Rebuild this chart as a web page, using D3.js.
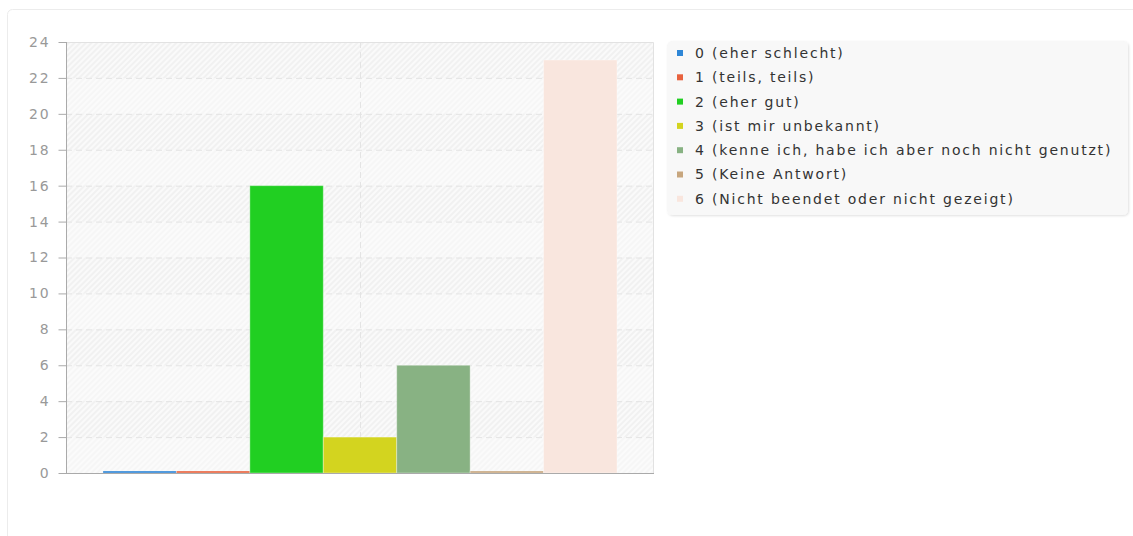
<!DOCTYPE html>
<html>
<head>
<meta charset="utf-8">
<script src="https://cdn.jsdelivr.net/npm/d3@7/dist/d3.min.js"></script>
<style>
  html, body { margin: 0; padding: 0; background: #fff; }
  svg { display: block; font-family: "DejaVu Sans", sans-serif; }
</style>
</head>
<body>
<svg id="chart" width="1133" height="536"></svg>
<script>
// Answer options and their counts
const categories = [""];
const seriesNames = [
  "0 (eher schlecht)",
  "1 (teils, teils)",
  "2 (eher gut)",
  "3 (ist mir unbekannt)",
  "4 (kenne ich, habe ich aber noch nicht genutzt)",
  "5 (Keine Antwort)",
  "6 (Nicht beendet oder nicht gezeigt)"
];
const seriesValues = [0, 0, 16, 2, 6, 0, 23];
const seriesColors = ["#2e86d6", "#e8623e", "#21cf22", "#d3d41f", "#88b283", "#c7a67e", "#f9e6de"];
const yTicks = [0, 2, 4, 6, 8, 10, 12, 14, 16, 18, 20, 22, 24];

const svg = d3.select("#chart");
const defs = svg.append("defs");

// card frame
svg.append("rect")
  .attr("x", 7.5).attr("y", 9.5).attr("width", 1140).attr("height", 560)
  .attr("rx", 5).attr("fill", "#fff").attr("stroke", "#ececec");

const plot = { left: 66, right: 654, top: 42, bottom: 473 };

const y = d3.scaleLinear().domain([0, 24]).range([plot.bottom, plot.top]);
const x0 = d3.scaleBand().domain(categories).range([plot.left, plot.right])
  .paddingInner(0).paddingOuter(0.072);
const x1 = d3.scaleBand().domain(seriesNames).range([0, x0.bandwidth()]).padding(0);

// diagonal hatch for the plot background
const hatch = defs.append("pattern").attr("id", "hatch")
  .attr("patternUnits", "userSpaceOnUse").attr("width", 4).attr("height", 4)
  .attr("patternTransform", "rotate(45)");
hatch.append("rect").attr("width", 4).attr("height", 4).attr("fill", "#f1f1f1");
hatch.append("line").attr("x1", 1).attr("y1", 0).attr("x2", 1).attr("y2", 4)
  .attr("stroke", "#fbfbfb").attr("stroke-width", 1.8);

svg.append("rect")
  .attr("x", plot.left).attr("y", plot.top)
  .attr("width", plot.right - plot.left).attr("height", plot.bottom - plot.top)
  .attr("fill", "url(#hatch)");

// alternate bands washed out
const bands = d3.range(0, 24, 2).filter((d, i) => i % 2 === 0);
svg.append("g").selectAll("rect").data(bands).join("rect")
  .attr("x", plot.left).attr("width", plot.right - plot.left)
  .attr("y", d => y(d + 2)).attr("height", d => y(d) - y(d + 2))
  .attr("fill", "#fbfbfb").attr("opacity", 0.5);

// horizontal dashed grid
svg.append("g").selectAll("line").data(yTicks.filter(d => d > 0 && d < 24)).join("line")
  .attr("x1", plot.left).attr("x2", plot.right)
  .attr("y1", d => y(d) + 0.5).attr("y2", d => y(d) + 0.5)
  .attr("stroke", "#e4e4e4").attr("stroke-dasharray", "6,4");

// vertical dashed grid at category centre
svg.append("g").selectAll("line").data(categories).join("line")
  .attr("x1", d => Math.round(x0(d) + x0.bandwidth() / 2) + 0.5)
  .attr("x2", d => Math.round(x0(d) + x0.bandwidth() / 2) + 0.5)
  .attr("y1", plot.top).attr("y2", plot.bottom)
  .attr("stroke", "#e4e4e4").attr("stroke-dasharray", "6,4");

// plot frame (top and right)
svg.append("path")
  .attr("d", `M${plot.left},${plot.top + 0.5}H${plot.right - 0.5}V${plot.bottom}`)
  .attr("fill", "none").attr("stroke", "#e2e2e2");

// bars
const rows = seriesNames.map((n, i) => ({ name: n, value: seriesValues[i], color: seriesColors[i] }));
svg.append("g").selectAll("g").data(categories).join("g")
  .attr("transform", d => `translate(${x0(d)},0)`)
  .selectAll("rect").data(rows).join("rect")
  .attr("x", d => x1(d.name))
  .attr("width", x1.bandwidth())
  .attr("y", d => Math.min(y(d.value), plot.bottom - 2))
  .attr("height", d => Math.max(plot.bottom - y(d.value), 2))
  .attr("fill", d => d.color)
  .attr("stroke", "rgba(255,255,255,0.35)").attr("stroke-width", 1);

// y axis
const yAxis = d3.axisLeft(y).tickValues(yTicks).tickSize(8).tickPadding(8);
const gy = svg.append("g").attr("transform", `translate(${plot.left + 0.5},0)`).call(yAxis);
gy.select(".domain").attr("stroke", "#aaa").attr("d", `M0,${plot.top}V${plot.bottom}`);
gy.selectAll(".tick line").attr("stroke", "#aaa");
gy.selectAll(".tick text").attr("fill", "#999").attr("font-size", 14)
  .attr("letter-spacing", "1.8px")
  .attr("font-family", "DejaVu Sans, sans-serif");

// x axis baseline
svg.append("line")
  .attr("x1", plot.left).attr("x2", plot.right)
  .attr("y1", plot.bottom + 0.5).attr("y2", plot.bottom + 0.5)
  .attr("stroke", "#aaa");

// legend
const shadow = defs.append("filter").attr("id", "shadow")
  .attr("x", "-5%").attr("y", "-5%").attr("width", "110%").attr("height", "115%");
shadow.append("feDropShadow").attr("dx", 1).attr("dy", 1).attr("stdDeviation", 1.2)
  .attr("flood-color", "#000").attr("flood-opacity", 0.12);

const legend = svg.append("g").attr("transform", "translate(667,41)");
legend.append("rect").attr("width", 461).attr("height", 174).attr("rx", 5)
  .attr("fill", "#f8f8f8").attr("filter", "url(#shadow)");
const item = legend.selectAll("g.item").data(rows).join("g").attr("class", "item")
  .attr("transform", (d, i) => `translate(0,${12 + i * 24.3})`);
item.append("rect").attr("x", 10).attr("y", -3).attr("width", 6).attr("height", 6)
  .attr("fill", d => d.color);
item.append("text").attr("x", 28).attr("y", 0).attr("dy", "0.35em")
  .attr("font-size", 14).attr("letter-spacing", "1.8px")
  .attr("fill", "#333").text(d => d.name);
</script>
</body>
</html>
